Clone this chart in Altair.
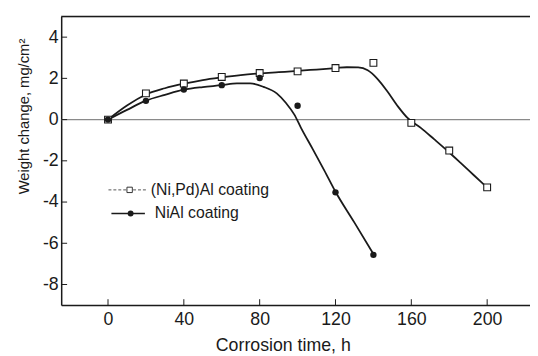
import altair as alt
import pandas as pd

# ---- data ----
times_pd = [0, 20, 40, 60, 80, 100, 120, 140, 160, 180, 200]
pdal = [0.0, 1.27, 1.75, 2.07, 2.26, 2.34, 2.50, 2.75, -0.16, -1.50, -3.29]

times_ni = [0, 20, 40, 60, 80, 100, 120, 140]
nial = [0.0, 0.91, 1.46, 1.67, 2.02, 0.67, -3.53, -6.56]

# fitted curves
curve_pd_t = [0, 10, 20, 30, 40, 50, 60, 70, 80, 90, 100, 110, 120, 126, 132, 137,
              142, 147.5, 153, 158, 165, 172, 179, 186, 193, 200]
curve_pd_w = [0.0, 0.68, 1.22, 1.52, 1.74, 1.92, 2.05, 2.16, 2.24, 2.30, 2.36, 2.43,
              2.50, 2.54, 2.53, 2.39, 1.99, 1.35, 0.63, 0.08, -0.40, -0.95, -1.51,
              -2.10, -2.70, -3.30]

curve_ni_t = [0, 10, 20, 30, 40, 50, 60, 68, 75, 82, 89, 94, 98.3, 101.8, 108, 114,
              120, 130, 140]
curve_ni_w = [0.0, 0.47, 0.92, 1.20, 1.45, 1.58, 1.67, 1.76, 1.76, 1.59, 1.27, 0.79,
              0.24, -0.40, -1.43, -2.45, -3.50, -5.00, -6.52]

x_ticks = [0, 40, 80, 120, 160, 200]
y_ticks = [-8, -6, -4, -2, 0, 2, 4]
legend_labels = ["(Ni,Pd)Al coating", "NiAl coating"]

W, H = 476, 293
FONT = "Liberation Sans"
INK = "#1a1a1a"

xs = alt.Scale(domain=[-24.7, 222.6], nice=False, zero=False)
ys = alt.Scale(domain=[-9, 5], nice=False, zero=False)

X = alt.X("t:Q", scale=xs, axis=alt.Axis(
    values=x_ticks, ticks=False, grid=False, labelFontSize=18, labelPadding=6,
    labelColor=INK, domainColor=INK, domainWidth=1.5, labelExpr="'' + datum.value",
    title="Corrosion time, h", titleFontSize=18, titleFontWeight="normal",
    titleColor=INK, titleX=225, titleY=45.7, titleBaseline="alphabetic",
    labelFlush=False))
Y = alt.Y("w:Q", scale=ys, axis=alt.Axis(
    values=y_ticks, ticks=False, grid=False, labelFontSize=18, labelPadding=3,
    labelColor=INK, domainColor=INK, domainWidth=1.5, labelExpr="'' + datum.value",
    title="Weight change, mg/cm²", titleFontSize=15, titleFontWeight="normal",
    titleColor=INK, titleX=-33, titleY=101, titleBaseline="alphabetic",
    titleAngle=-90, labelFlush=False))

df_pd = pd.DataFrame({"t": times_pd, "w": pdal})
df_ni = pd.DataFrame({"t": times_ni, "w": nial})
df_cpd = pd.DataFrame({"t": curve_pd_t, "w": curve_pd_w})
df_cni = pd.DataFrame({"t": curve_ni_t, "w": curve_ni_w})
df_xt = pd.DataFrame({"t": x_ticks})
df_yt = pd.DataFrame({"w": y_ticks})
df_zero = pd.DataFrame({"w": [0]})

zero_line = alt.Chart(df_zero).mark_rule(color="#8a8a8a", strokeWidth=1.2).encode(y=Y)
top_line = alt.Chart(df_zero).mark_rule(color=INK, strokeWidth=1.5).encode(
    x=alt.value(0), x2=alt.value(W), y=alt.value(0))
xt = alt.Chart(df_xt).mark_rule(color=INK, strokeWidth=1).encode(
    x=X, y=alt.value(H), y2=alt.value(H - 6))
yt = alt.Chart(df_yt).mark_rule(color=INK, strokeWidth=1).encode(
    y=Y, x=alt.value(0), x2=alt.value(6))

line_pd = alt.Chart(df_cpd).mark_line(color=INK, strokeWidth=1.8, interpolate="monotone").encode(x=X, y=Y)
line_ni = alt.Chart(df_cni).mark_line(color=INK, strokeWidth=1.8, interpolate="monotone").encode(x=X, y=Y)

pts_pd = alt.Chart(df_pd).mark_point(shape="square", filled=True, fill="white", stroke=INK,
                                     strokeWidth=1.1, size=48, opacity=1).encode(x=X, y=Y)
pts_ni = alt.Chart(df_ni).mark_circle(color=INK, size=42, opacity=1).encode(x=X, y=Y)

# legend
lg1 = pd.DataFrame({"label": [legend_labels[0]]})
lg2 = pd.DataFrame({"label": [legend_labels[1]]})
leg = [
    alt.Chart(lg1).mark_rule(color="#555", strokeWidth=1, strokeDash=[3, 2]).encode(
        x=alt.value(48), x2=alt.value(88), y=alt.value(176)),
    alt.Chart(lg1).mark_point(shape="square", filled=True, fill="white", stroke="#333",
                              strokeWidth=1, size=30, opacity=1).encode(
        x=alt.value(69.5), y=alt.value(176)),
    alt.Chart(lg1).mark_text(align="left", baseline="middle", fontSize=16, font=FONT,
                             color=INK).encode(x=alt.value(91), y=alt.value(176), text="label:N"),
    alt.Chart(lg2).mark_rule(color=INK, strokeWidth=1.5).encode(
        x=alt.value(51), x2=alt.value(85), y=alt.value(200)),
    alt.Chart(lg2).mark_circle(color=INK, size=36, opacity=1).encode(
        x=alt.value(70.5), y=alt.value(200)),
    alt.Chart(lg2).mark_text(align="left", baseline="middle", fontSize=16, font=FONT,
                             color=INK).encode(x=alt.value(95), y=alt.value(200), text="label:N"),
]

chart = alt.layer(
    zero_line, top_line, xt, yt, line_pd, line_ni, pts_pd, pts_ni, *leg
).properties(
    width=W, height=H,
    autosize=alt.AutoSizeParams(type="none"),
    padding={"left": 54, "top": 6, "right": 0, "bottom": 49},
).configure_view(stroke=None).configure(font=FONT)

chart.save("out.html", embed_options={"renderer": "svg", "actions": False})
